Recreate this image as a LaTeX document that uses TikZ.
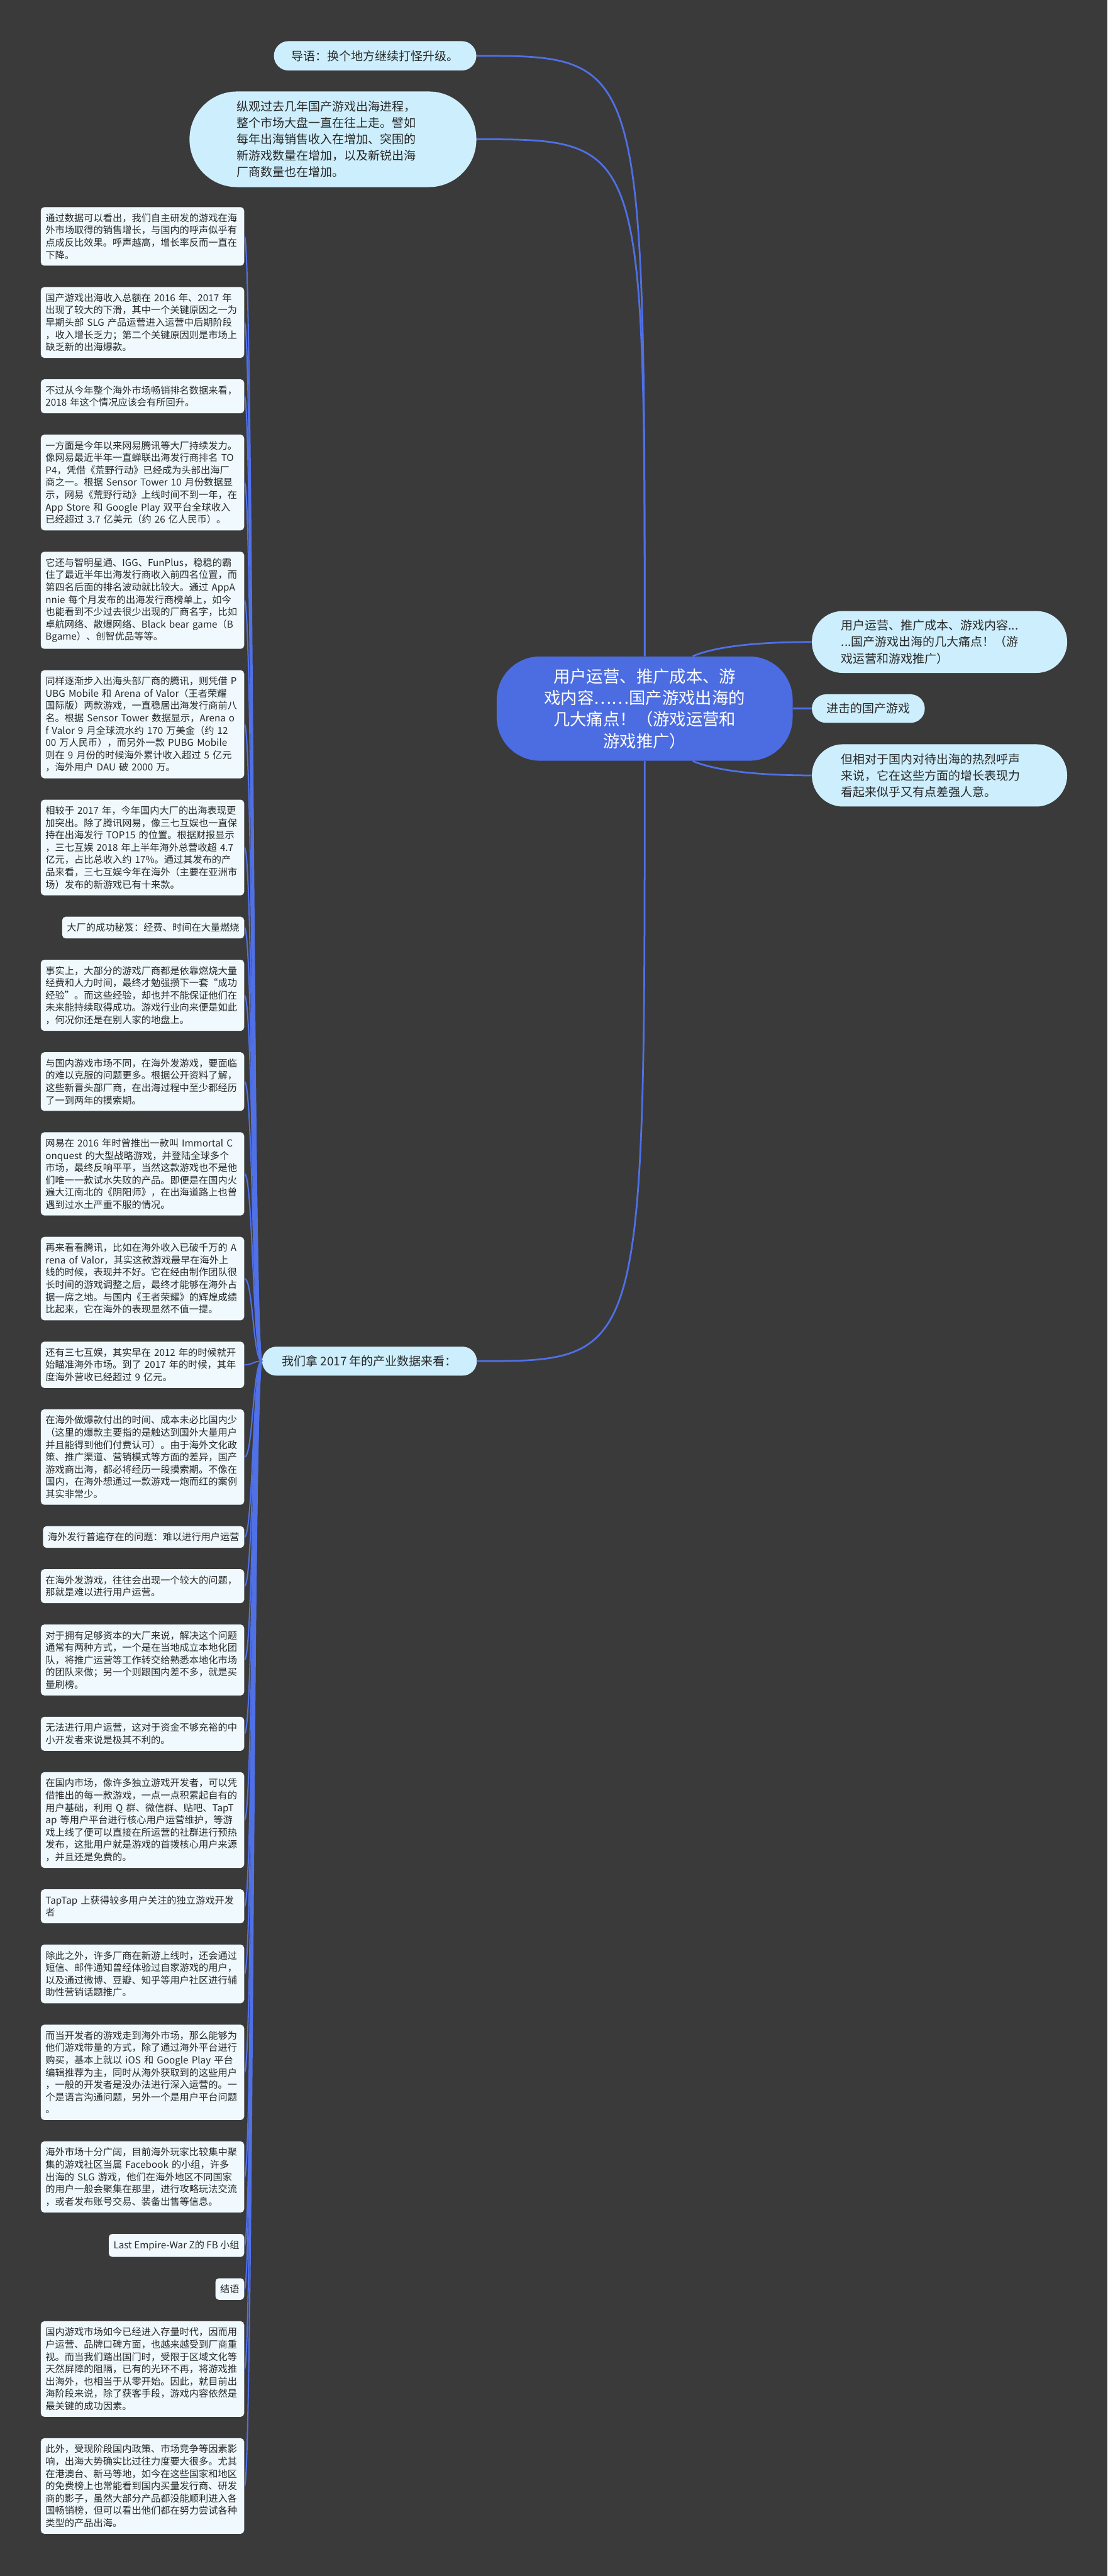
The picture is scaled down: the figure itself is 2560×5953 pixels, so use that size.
\documentclass[tikz,border=0pt]{standalone}
\usepackage{fontspec}
\setmainfont{Noto Sans CJK SC}
\usetikzlibrary{positioning,calc}
\definecolor{canvas}{RGB}{58,58,58}
\definecolor{rootblue}{RGB}{76,108,225}
\definecolor{linkblue}{RGB}{80,112,230}
\definecolor{topicfill}{RGB}{205,238,252}
\definecolor{leaffill}{RGB}{240,250,254}
\definecolor{inkdark}{RGB}{40,40,40}

\begin{document}
\begin{tikzpicture}[x=0.1mm, y=-0.1mm,
    root/.style={rectangle, rounded corners=10mm, fill=rootblue, text=white, font=\fontsize{10.9pt}{14.2pt}\selectfont, align=center, minimum width=68.4mm, minimum height=24.1mm},
    topic/.style={rectangle, rounded corners=#1, fill=topicfill, text=inkdark, font=\fontsize{7.85pt}{10.8pt}\selectfont, inner ysep=0pt},
    topicw/.style={topic=#1, text width=45.4mm, align=left, inner xsep=6.8mm},
    leaf/.style={rectangle, rounded corners=0.8mm, fill=leaffill, text=inkdark, font=\fontsize{6.3pt}{8.1pt}\selectfont, align=left, inner xsep=1.1mm, inner ysep=1.47mm},
    leafw/.style={leaf, text width=44.8mm},
    trunk/.style={draw=linkblue, line width=0.4mm},
    twig/.style={draw=linkblue, line width=0.3mm, to path={.. controls +(-21,0) and +(20,0) .. (\tikztotarget)}}]
    \fill[canvas] (0,0) rectangle (2560,5953);

    \node[root] (root) at (1490,1637.5) {用户运营、推广成本、游\\戏内容……国产游戏出海的\\几大痛点！（游戏运营和\\游戏推广）};

    \node[topic=3.4mm, minimum width=46.8mm, minimum height=6.8mm] (intro) at (867,129) {导语：换个地方继续打怪升级。};
    \node[topic=11mm, text width=44.5mm, align=left, inner xsep=10.9mm, minimum height=22.1mm, below=4.7mm of intro.south east, anchor=north east] (outlook) {纵观过去几年国产游戏出海进程，\\整个市场大盘一直在往上走。譬如\\每年出海销售收入在增加、突围的\\新游戏数量在增加，以及新锐出海\\厂商数量也在增加。};

    \node[topic=3.3mm, minimum width=26.1mm, minimum height=6.6mm, right=4.3mm of root] (attack) {进击的国产游戏};
    \node[topicw=7.1mm, minimum height=14.3mm, above=4.8mm of attack.north west, anchor=south west] (pain) {用户运营、推广成本、游戏内容...\\...国产游戏出海的几大痛点！（游\\戏运营和游戏推广）};
    \node[topicw=7.2mm, minimum height=14.4mm, below=4.8mm of attack.south west, anchor=north west] (lukewarm) {但相对于国内对待出海的热烈呼声\\来说，它在这些方面的增长表现力\\看起来似乎又有点差强人意。};

    \node[topic=3.3mm, minimum width=49.6mm, minimum height=6.7mm] (data) at (854,3145.5) {我们拿 2017 年的产业数据来看：};

    \node[leafw, anchor=north east] (decline) at (565,478) {通过数据可以看出，我们自主研发的游戏在海\\外市场取得的销售增长，与国内的呼声似乎有\\点成反比效果。呼声越高，增长率反而一直在\\下降。};
    \node[leafw, below=4.8mm of decline.south east, anchor=north east] (slump) {国产游戏出海收入总额在 2016 年、2017 年\\出现了较大的下滑，其中一个关键原因之一为\\早期头部 SLG 产品运营进入运营中后期阶段\\，收入增长乏力；第二个关键原因则是市场上\\缺乏新的出海爆款。};
    \node[leafw, below=4.8mm of slump.south east, anchor=north east] (rebound) {不过从今年整个海外市场畅销排名数据来看，\\2018 年这个情况应该会有所回升。};
    \node[leafw, below=4.8mm of rebound.south east, anchor=north east] (netease) {一方面是今年以来网易腾讯等大厂持续发力。\\像网易最近半年一直蝉联出海发行商排名 TO\\P4，凭借《荒野行动》已经成为头部出海厂\\商之一。根据 Sensor Tower 10 月份数据显\\示，网易《荒野行动》上线时间不到一年，在\\App Store 和 Google Play 双平台全球收入\\已经超过 3.7 亿美元（约 26 亿人民币）。};
    \node[leafw, below=4.8mm of netease.south east, anchor=north east] (rivals) {它还与智明星通、IGG、FunPlus，稳稳的霸\\住了最近半年出海发行商收入前四名位置，而\\第四名后面的排名波动就比较大。通过 AppA\\nnie 每个月发布的出海发行商榜单上，如今\\也能看到不少过去很少出现的厂商名字，比如\\卓航网络、散爆网络、Black bear game（B\\Bgame）、创智优品等等。};
    \node[leafw, below=4.8mm of rivals.south east, anchor=north east] (tencent) {同样逐渐步入出海头部厂商的腾讯，则凭借 P\\UBG Mobile 和 Arena of Valor（王者荣耀\\国际版）两款游戏，一直稳居出海发行商前八\\名。根据 Sensor Tower 数据显示，Arena o\\f Valor 9 月全球流水约 170 万美金（约 12\\00 万人民币），而另外一款 PUBG Mobile\\则在 9 月份的时候海外累计收入超过 5 亿元\\，海外用户 DAU 破 2000 万。};
    \node[leafw, below=4.8mm of tencent.south east, anchor=north east] (sanqi) {相较于 2017 年，今年国内大厂的出海表现更\\加突出。除了腾讯网易，像三七互娱也一直保\\持在出海发行 TOP15 的位置。根据财报显示\\，三七互娱 2018 年上半年海外总营收超 4.7\\亿元，占比总收入约 17\%。通过其发布的产\\品来看，三七互娱今年在海外（主要在亚洲市\\场）发布的新游戏已有十来款。};
    \node[leaf, below=4.8mm of sanqi.south east, anchor=north east] (secret) {大厂的成功秘笈：经费、时间在大量燃烧};
    \node[leafw, below=4.8mm of secret.south east, anchor=north east] (burning) {事实上，大部分的游戏厂商都是依靠燃烧大量\\经费和人力时间，最终才勉强攒下一套“成功\\经验”。而这些经验，却也并不能保证他们在\\未来能持续取得成功。游戏行业向来便是如此\\，何况你还是在别人家的地盘上。};
    \node[leafw, below=4.8mm of burning.south east, anchor=north east] (harder) {与国内游戏市场不同，在海外发游戏，要面临\\的难以克服的问题更多。根据公开资料了解，\\这些新晋头部厂商，在出海过程中至少都经历\\了一到两年的摸索期。};
    \node[leafw, below=4.8mm of harder.south east, anchor=north east] (immortal) {网易在 2016 年时曾推出一款叫 Immortal C\\onquest 的大型战略游戏，并登陆全球多个\\市场，最终反响平平，当然这款游戏也不是他\\们唯一一款试水失败的产品。即便是在国内火\\遍大江南北的《阴阳师》，在出海道路上也曾\\遇到过水土严重不服的情况。};
    \node[leafw, below=4.8mm of immortal.south east, anchor=north east] (valor) {再来看看腾讯，比如在海外收入已破千万的 A\\rena of Valor，其实这款游戏最早在海外上\\线的时候，表现并不好。它在经由制作团队很\\长时间的游戏调整之后，最终才能够在海外占\\据一席之地。与国内《王者荣耀》的辉煌成绩\\比起来，它在海外的表现显然不值一提。};
    \node[leafw, below=4.8mm of valor.south east, anchor=north east] (early) {还有三七互娱，其实早在 2012 年的时候就开\\始瞄准海外市场。到了 2017 年的时候，其年\\度海外营收已经超过 9 亿元。};
    \node[leafw, below=4.8mm of early.south east, anchor=north east] (hitcost) {在海外做爆款付出的时间、成本未必比国内少\\（这里的爆款主要指的是触达到国外大量用户\\并且能得到他们付费认可）。由于海外文化政\\策、推广渠道、营销模式等方面的差异，国产\\游戏商出海，都必将经历一段摸索期。不像在\\国内，在海外想通过一款游戏一炮而红的案例\\其实非常少。};
    \node[leaf, below=4.8mm of hitcost.south east, anchor=north east] (issue) {海外发行普遍存在的问题：难以进行用户运营};
    \node[leafw, below=4.8mm of issue.south east, anchor=north east] (userops) {在海外发游戏，往往会出现一个较大的问题，\\那就是难以进行用户运营。};
    \node[leafw, below=4.8mm of userops.south east, anchor=north east] (bigfirms) {对于拥有足够资本的大厂来说，解决这个问题\\通常有两种方式，一个是在当地成立本地化团\\队，将推广运营等工作转交给熟悉本地化市场\\的团队来做；另一个则跟国内差不多，就是买\\量刷榜。};
    \node[leafw, below=4.8mm of bigfirms.south east, anchor=north east] (smalldevs) {无法进行用户运营，这对于资金不够充裕的中\\小开发者来说是极其不利的。};
    \node[leafw, below=4.8mm of smalldevs.south east, anchor=north east] (domestic) {在国内市场，像许多独立游戏开发者，可以凭\\借推出的每一款游戏，一点一点积累起自有的\\用户基础，利用 Q 群、微信群、贴吧、TapT\\ap 等用户平台进行核心用户运营维护，等游\\戏上线了便可以直接在所运营的社群进行预热\\发布，这批用户就是游戏的首拨核心用户来源\\，并且还是免费的。};
    \node[leafw, below=4.8mm of domestic.south east, anchor=north east] (taptap) {TapTap 上获得较多用户关注的独立游戏开发\\者};
    \node[leafw, below=4.8mm of taptap.south east, anchor=north east] (notify) {除此之外，许多厂商在新游上线时，还会通过\\短信、邮件通知曾经体验过自家游戏的用户，\\以及通过微博、豆瓣、知乎等用户社区进行辅\\助性营销话题推广。};
    \node[leafw, below=4.8mm of notify.south east, anchor=north east] (abroad) {而当开发者的游戏走到海外市场，那么能够为\\他们游戏带量的方式，除了通过海外平台进行\\购买，基本上就以 iOS 和 Google Play 平台\\编辑推荐为主，同时从海外获取到的这些用户\\，一般的开发者是没办法进行深入运营的。一\\个是语言沟通问题，另外一个是用户平台问题\\。};
    \node[leafw, below=4.8mm of abroad.south east, anchor=north east] (facebook) {海外市场十分广阔，目前海外玩家比较集中聚\\集的游戏社区当属 Facebook 的小组，许多\\出海的 SLG 游戏，他们在海外地区不同国家\\的用户一般会聚集在那里，进行攻略玩法交流\\，或者发布账号交易、装备出售等信息。};
    \node[leaf, below=4.8mm of facebook.south east, anchor=north east] (fbgroup) {Last Empire-War Z的 FB 小组};
    \node[leaf, below=4.8mm of fbgroup.south east, anchor=north east] (ending) {结语};
    \node[leafw, below=4.8mm of ending.south east, anchor=north east] (stock) {国内游戏市场如今已经进入存量时代，因而用\\户运营、品牌口碑方面，也越来越受到厂商重\\视。而当我们踏出国门时，受限于区域文化等\\天然屏障的阻隔，已有的光环不再，将游戏推\\出海外，也相当于从零开始。因此，就目前出\\海阶段来说，除了获客手段，游戏内容依然是\\最关键的成功因素。};
    \node[leafw, below=4.8mm of stock.south east, anchor=north east] (trend) {此外，受现阶段国内政策、市场竞争等因素影\\响，出海大势确实比过往力度要大很多。尤其\\在港澳台、新马等地，如今在这些国家和地区\\的免费榜上也常能看到国内买量发行商、研发\\商的影子，虽然大部分产品都没能顺利进入各\\国畅销榜，但可以看出他们都在努力尝试各种\\类型的产品出海。};

    \draw[trunk] (root.north) .. controls (root.north |- intro.east) .. (intro.east);
    \draw[trunk] (root.north) .. controls (root.north |- outlook.east) .. (outlook.east);
    \draw[trunk] (root.south) .. controls (root.south |- data.east) .. (data.east);
    \draw[trunk] ($(root.north)+(111,0)$) .. controls +(60,-25) and +(-110,0) .. (pain.west);
    \draw[trunk] (root.east) -- (attack.west);
    \draw[trunk] ($(root.south)+(111,0)$) .. controls +(60,25) and +(-110,0) .. (lukewarm.west);

    \path (data.west) edge[twig] (decline.east);
    \path (data.west) edge[twig] (slump.east);
    \path (data.west) edge[twig] (rebound.east);
    \path (data.west) edge[twig] (netease.east);
    \path (data.west) edge[twig] (rivals.east);
    \path (data.west) edge[twig] (tencent.east);
    \path (data.west) edge[twig] (sanqi.east);
    \path (data.west) edge[twig] (secret.east);
    \path (data.west) edge[twig] (burning.east);
    \path (data.west) edge[twig] (harder.east);
    \path (data.west) edge[twig] (immortal.east);
    \path (data.west) edge[twig] (valor.east);
    \path (data.west) edge[twig] (early.east);
    \path (data.west) edge[twig] (hitcost.east);
    \path (data.west) edge[twig] (issue.east);
    \path (data.west) edge[twig] (userops.east);
    \path (data.west) edge[twig] (bigfirms.east);
    \path (data.west) edge[twig] (smalldevs.east);
    \path (data.west) edge[twig] (domestic.east);
    \path (data.west) edge[twig] (taptap.east);
    \path (data.west) edge[twig] (notify.east);
    \path (data.west) edge[twig] (abroad.east);
    \path (data.west) edge[twig] (facebook.east);
    \path (data.west) edge[twig] (fbgroup.east);
    \path (data.west) edge[twig] (ending.east);
    \path (data.west) edge[twig] (stock.east);
    \path (data.west) edge[twig] (trend.east);
\end{tikzpicture}
\end{document}
